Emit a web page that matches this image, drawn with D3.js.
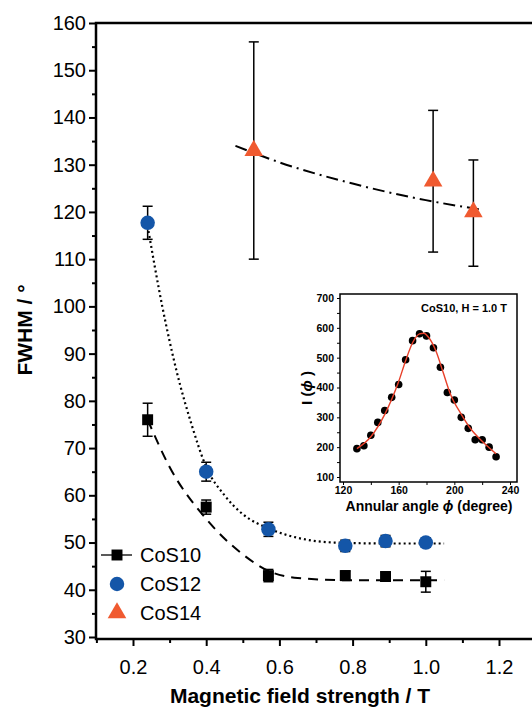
<!DOCTYPE html><html><head><meta charset="utf-8"><script src="https://cdn.jsdelivr.net/npm/d3@7"></script>
<style>body{margin:0;background:#fff}text{font-family:"Liberation Sans",Arial,sans-serif}</style></head><body><svg id="c" width="532" height="712"></svg>
<script>
const xTicks=[0.2,0.4,0.6,0.8,1.0,1.2];
const yTicks=[30,40,50,60,70,80,90,100,110,120,130,140,150,160];
const cos10X=[0.24,0.40,0.57,0.78,0.89,1.0], cos10Y=[76,57.5,43,43,42.8,41.7], cos10E=[3.5,1.5,1.3,1,1,2.2];
const cos12X=[0.24,0.40,0.57,0.78,0.89,1.0], cos12Y=[117.7,65,52.8,49.3,50.3,50], cos12E=[3.5,2,1.5,1.2,1.2,1];
const cos14X=[0.53,1.02,1.13], cos14Y=[133,126.5,120], cos14Lo=[110,111.5,108.5], cos14Hi=[156,141.5,131];
const fit10X=[0.24,0.3,0.4,0.5,0.57,0.65,0.8,1.05], fit10Y=[76,66,55,47.5,44,42.5,42,42];
const fit12X=[0.24,0.28,0.32,0.36,0.4,0.45,0.5,0.57,0.65,0.75,0.9,1.05], fit12Y=[117,100,86,75,66,60,56,53,51,50,49.8,49.8];
const fit14X=[0.48,0.6,0.8,1.0,1.15], fit14Y=[134,130.5,126,122.5,120.5];
const inX=[130,135,140,145,150,155,160,165,170,175,180,185,190,195,200,205,210,215,220,225,230];
const inY=[195,205,240,283,323,367,410,493,557,580,573,533,468,383,358,300,263,225,225,200,168];
const inFitX=[130,140,150,160,165,170,175,178,182,187,192,197,205,212,220,230];
const inFitY=[195,235,310,420,490,550,580,582,565,520,450,380,310,260,220,178];
const inXTicks=[120,160,200,240], inYTicks=[100,200,300,400,500,600,700];

const svg=d3.select("#c");
const x=d3.scaleLinear().domain([0.2,1.2]).range([133,499]);
const y=d3.scaleLinear().domain([30,160]).range([637,23]);
const L=96,R=540,T=23,B=639;
svg.append("rect").attr("x",L).attr("y",T).attr("width",R-L).attr("height",B-T).attr("fill","none").attr("stroke","#000").attr("stroke-width",2.5);
const xa=svg.append("g").attr("transform",`translate(0,${B})`).call(d3.axisBottom(x).tickValues(d3.range(0.1,1.35,0.1)).tickSize(6).tickFormat(d=>xTicks.some(t=>Math.abs(t-d)<1e-6)?d.toFixed(1):""));
xa.selectAll("line").attr("stroke-width",2).attr("y2",d=>xTicks.some(t=>Math.abs(t-d)<1e-6)?7:4);
xa.select(".domain").remove();
xa.selectAll("text").attr("font-size",20).attr("dy","1.3em");
const ya=svg.append("g").attr("transform",`translate(${L},0)`).call(d3.axisLeft(y).tickValues(d3.range(30,161,5)).tickSize(6).tickFormat(d=>d%10===0?d:""));
ya.selectAll("line").attr("stroke-width",2).attr("x2",d=>d%10===0?-7:-4);
ya.select(".domain").remove();
ya.selectAll("text").attr("font-size",20).attr("dx","-0.05em");
svg.append("text").attr("x",300).attr("y",703).attr("text-anchor","middle").attr("font-size",21).attr("font-weight","bold").text("Magnetic field strength / T");
svg.append("text").attr("transform","translate(32,330) rotate(-90)").attr("text-anchor","middle").attr("font-size",21).attr("font-weight","bold").text("FWHM / °");
const line=d3.line().x(d=>x(d[0])).y(d=>y(d[1])).curve(d3.curveMonotoneX);
svg.append("path").attr("d",line(fit10X.map((v,i)=>[v,fit10Y[i]]))).attr("fill","none").attr("stroke","#000").attr("stroke-width",2).attr("stroke-dasharray","10,7");
svg.append("path").attr("d",line(fit12X.map((v,i)=>[v,fit12Y[i]]))).attr("fill","none").attr("stroke","#000").attr("stroke-width",2.2).attr("stroke-dasharray","2,3");
svg.append("path").attr("d",line(fit14X.map((v,i)=>[v,fit14Y[i]]))).attr("fill","none").attr("stroke","#000").attr("stroke-width",2).attr("stroke-dasharray","12,5,2,5");
function err(xv,lo,hi){const g=svg.append("g").attr("stroke","#000").attr("stroke-width",1.5);
 g.append("line").attr("x1",x(xv)).attr("x2",x(xv)).attr("y1",y(lo)).attr("y2",y(hi));
 [lo,hi].forEach(v=>g.append("line").attr("x1",x(xv)-5).attr("x2",x(xv)+5).attr("y1",y(v)).attr("y2",y(v)));}
cos10X.forEach((v,i)=>err(v,cos10Y[i]-cos10E[i],cos10Y[i]+cos10E[i]));
cos12X.forEach((v,i)=>err(v,cos12Y[i]-cos12E[i],cos12Y[i]+cos12E[i]));
cos14X.forEach((v,i)=>err(v,cos14Lo[i],cos14Hi[i]));
const sq=d3.symbol(d3.symbolSquare,120)(), ci=d3.symbol(d3.symbolCircle,165)(), tr=d3.symbol(d3.symbolTriangle,150)();
cos10X.forEach((v,i)=>svg.append("path").attr("d",sq).attr("transform",`translate(${x(v)},${y(cos10Y[i])})`).attr("fill","#000"));
cos12X.forEach((v,i)=>svg.append("path").attr("d",ci).attr("transform",`translate(${x(v)},${y(cos12Y[i])})`).attr("fill","#1456a8"));
cos14X.forEach((v,i)=>svg.append("path").attr("d",tr).attr("transform",`translate(${x(v)},${y(cos14Y[i])})`).attr("fill","#f05a30"));
const lg=[["CoS10",sq,"#000"],["CoS12",ci,"#1456a8"],["CoS14",tr,"#f05a30"]];
lg.forEach((d,i)=>{const yy=555+i*29;
 if(i===0)svg.append("line").attr("x1",101).attr("x2",132).attr("y1",yy).attr("y2",yy).attr("stroke","#000").attr("stroke-width",1.3);
 svg.append("path").attr("d",d[1]).attr("transform",`translate(117,${yy})`).attr("fill",d[2]);
 svg.append("text").attr("x",140).attr("y",yy+7).attr("font-size",20).text(d[0]);});
const ix=d3.scaleLinear().domain([120,240]).range([343,510]);
const iy=d3.scaleLinear().domain([100,700]).range([477,298]);
svg.append("rect").attr("x",340).attr("y",294).attr("width",177).attr("height",188).attr("fill","#fff").attr("stroke","#000").attr("stroke-width",1.5);
const ixa=svg.append("g").attr("transform","translate(0,482)").call(d3.axisBottom(ix).tickValues(d3.range(120,241,20)).tickSize(3).tickFormat(d=>inXTicks.includes(d)?d:""));
ixa.select(".domain").remove();ixa.selectAll("text").attr("font-size",10.5).attr("font-weight","bold").attr("dy","0.6em");
const iya=svg.append("g").attr("transform","translate(340,0)").call(d3.axisLeft(iy).tickValues(d3.range(100,701,50)).tickSize(3).tickFormat(d=>inYTicks.includes(d)?d:""));
iya.select(".domain").remove();iya.selectAll("text").attr("font-size",10.5).attr("font-weight","bold");
svg.append("text").attr("x",429).attr("y",511).attr("text-anchor","middle").attr("font-size",14).attr("font-weight","bold").html('Annular angle <tspan font-style="italic">ϕ</tspan> (degree)');
svg.append("text").attr("transform","translate(312,388) rotate(-90)").attr("text-anchor","middle").attr("font-size",15).attr("font-weight","bold").html('I (<tspan font-style="italic">ϕ</tspan> )');
svg.append("text").attr("x",507).attr("y",312).attr("text-anchor","end").attr("font-size",11).attr("font-weight","bold").text("CoS10, H = 1.0 T");
inX.forEach((v,i)=>{svg.append("line").attr("x1",ix(v)).attr("x2",ix(v)).attr("y1",iy(inY[i]-12)).attr("y2",iy(inY[i]+12)).attr("stroke","#777").attr("stroke-width",0.8);
 svg.append("circle").attr("cx",ix(v)).attr("cy",iy(inY[i])).attr("r",3.8).attr("fill","#000");});
const il=d3.line().x(d=>ix(d[0])).y(d=>iy(d[1])).curve(d3.curveMonotoneX);
svg.append("path").attr("d",il(inFitX.map((v,i)=>[v,inFitY[i]]))).attr("fill","none").attr("stroke","#e8402a").attr("stroke-width",1.4);
</script></body></html>
